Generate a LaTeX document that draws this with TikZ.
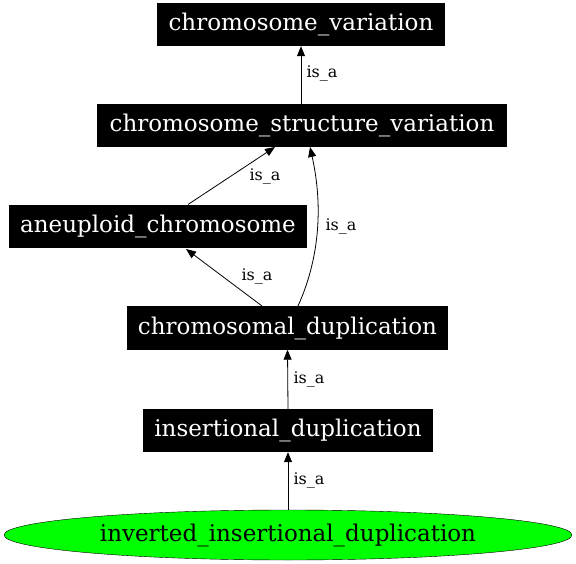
\documentclass[tikz,border=0pt]{standalone}
\usepackage{fontspec}
\setmainfont{DejaVu Serif}
\usetikzlibrary{arrows.meta,shapes.geometric}
\begin{document}
\begin{tikzpicture}[x=1pt,y=-1pt,
  box/.style={fill=black,text=white,inner sep=0pt,font=\fontsize{23}{26}\selectfont,minimum height=43},
  ell/.style={ellipse,draw=black,fill=green,inner sep=0pt,font=\fontsize{23}{26}\selectfont,minimum width=568,minimum height=50},
  edge/.style={-{Triangle[length=10pt,width=8pt]},line width=0.8pt},
  lab/.style={font=\fontsize{16}{18}\selectfont,inner sep=0pt}]
\useasboundingbox (0,0) rectangle (576,564);
\node[box,minimum width=288] (cv) at (301,24.5) {chromosome\_variation};
\node[box,minimum width=410] (csv) at (302,125.5) {chromosome\_structure\_variation};
\node[box,minimum width=298] (ac) at (158,226.5) {aneuploid\_chromosome};
\node[box,minimum width=321] (cd) at (287.5,328) {chromosomal\_duplication};
\node[box,minimum width=290] (id) at (288,430.5) {insertional\_duplication};
\node[ell] (iid) at (288,535) {inverted\_insertional\_duplication};
\draw[edge] (csv.north -| cv) -- (cv.south);
\node[lab] (l1) at (322,74) {is\_a};
\draw[edge] (188,204.5) -- (275,147);
\node[lab] (l2) at (265,177) {is\_a};
\draw[edge] (298,306) .. controls (318,262) and (324,210) .. (310,147);
\node[lab] (l3) at (341,227) {is\_a};
\draw[edge] (262,306) -- (186,249);
\node[lab] (l4) at (257,277) {is\_a};
\draw[edge] (id.north) -- (cd.south);
\node[lab] (l5) at (309,379) {is\_a};
\draw[edge] (iid.north) -- (id.south);
\node[lab] (l6) at (309,480) {is\_a};
\end{tikzpicture}
\end{document}
